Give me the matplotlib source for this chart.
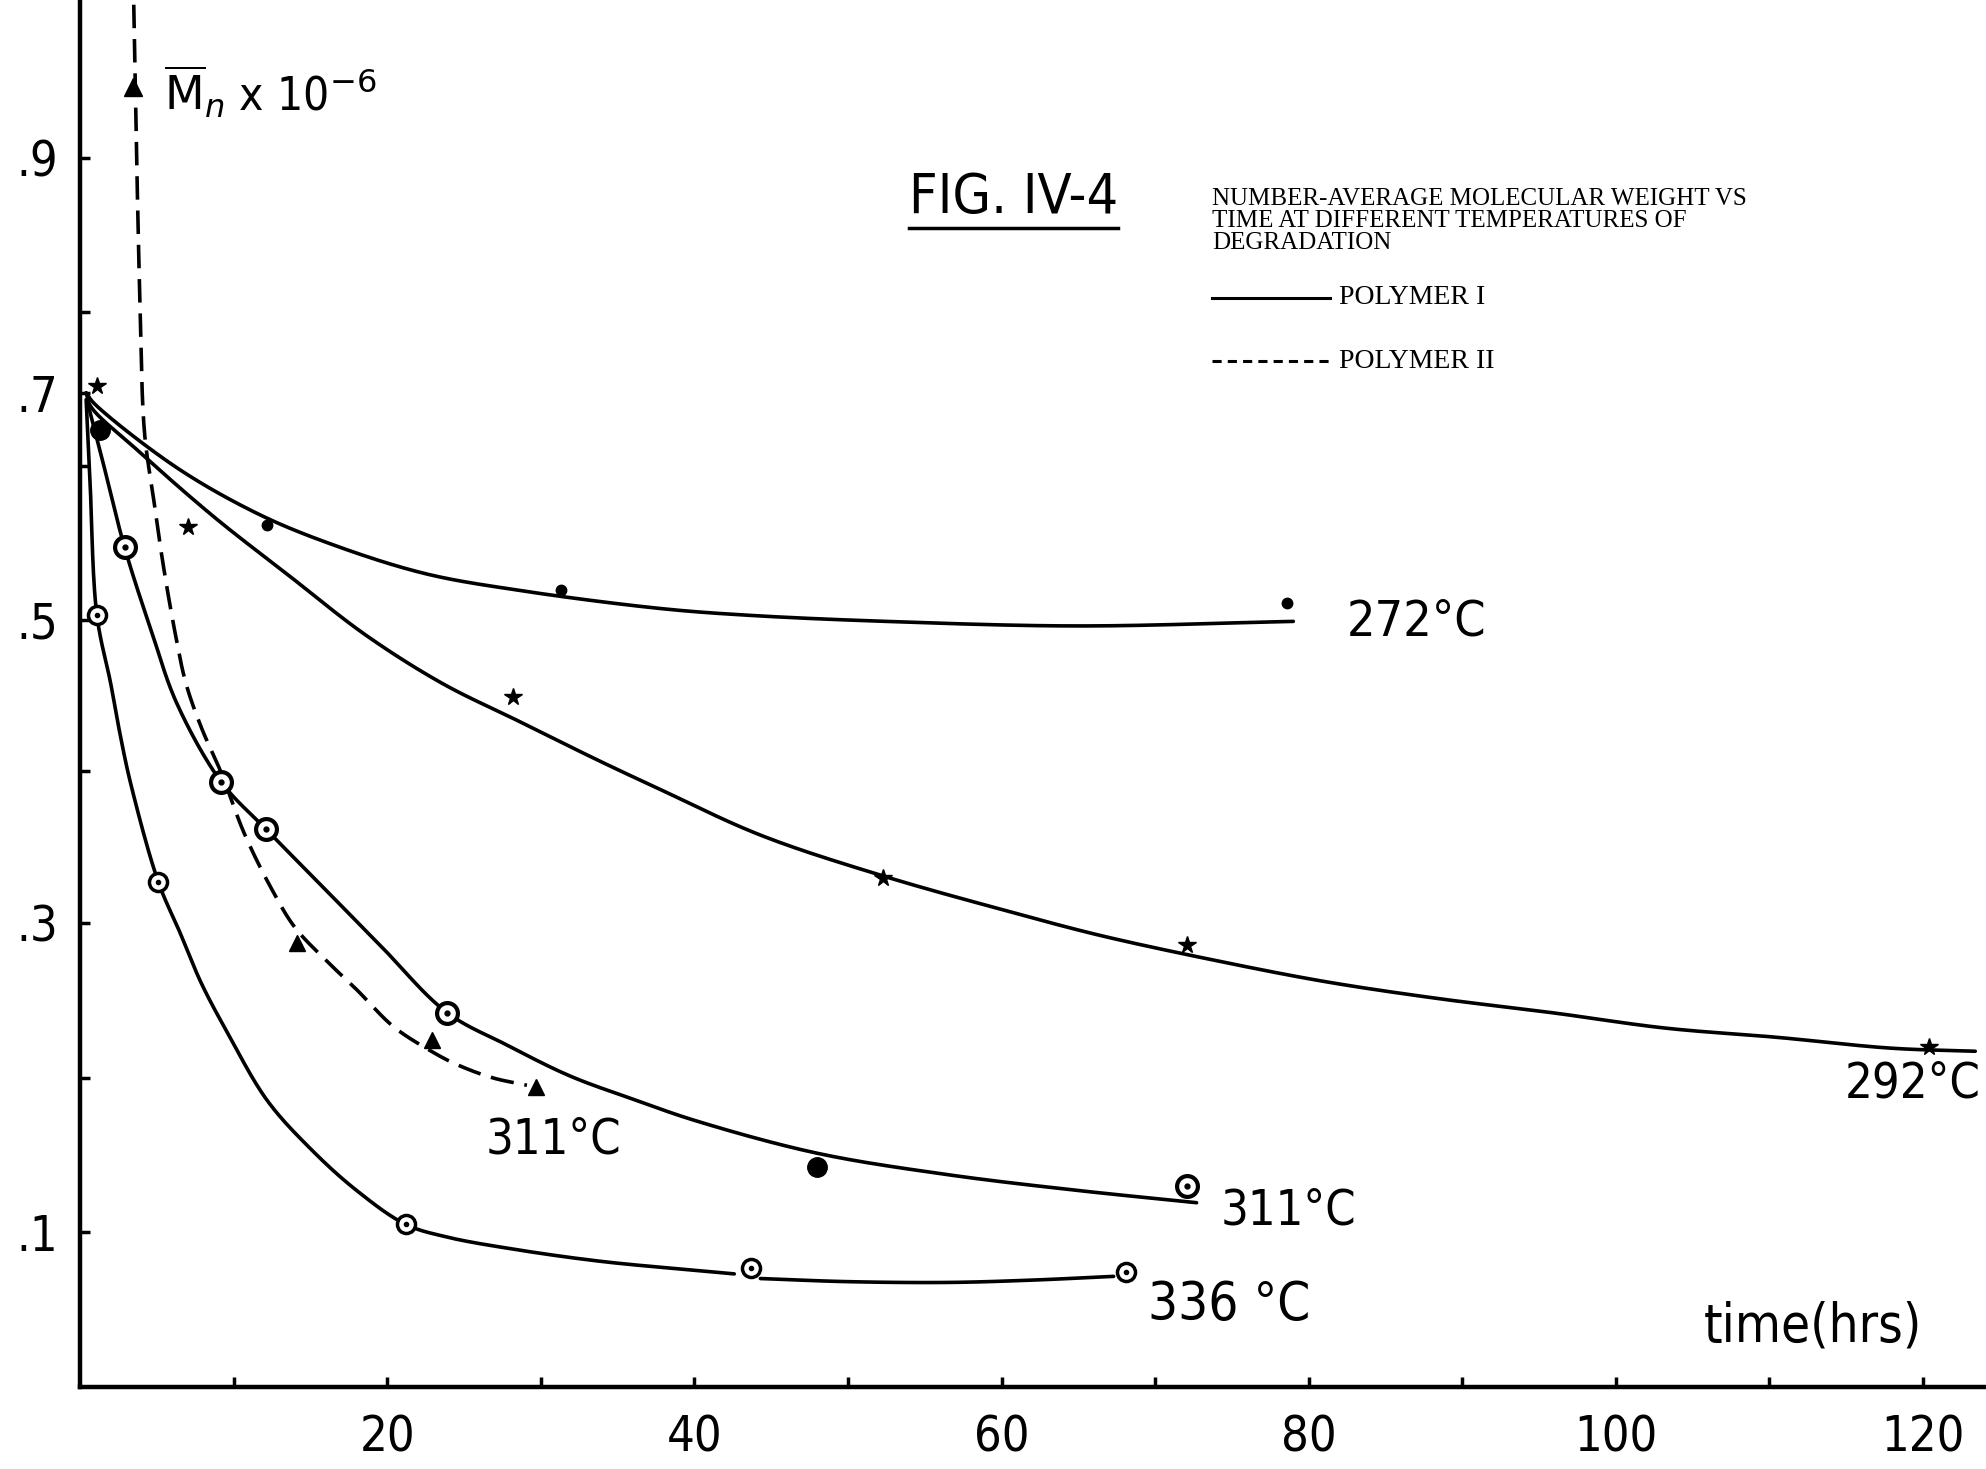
import numpy as np
import matplotlib
matplotlib.use("Agg")
import matplotlib.pyplot as plt

plt.rcParams["mathtext.fontset"] = "dejavusans"

# ---------------- data (time in hrs, Mn x 10^-6) ----------------
# Polymer I, 272 C
t272_line = [0.4, 0.9, 6.2, 11.5, 16.1, 22.4, 28.6, 37.8, 43.6, 52.5, 64.9, 79.0]
m272_line = [0.700, 0.691, 0.635, 0.594, 0.568, 0.541, 0.526, 0.510, 0.504, 0.499, 0.496, 0.499]
t272_pts = [12.2, 31.3, 78.6]
m272_pts = [0.584, 0.526, 0.515]

# Polymer I, 292 C
t292_line = [0.4, 0.7, 3.7, 8.7, 13.7, 18.6, 23.6, 28.6, 33.6, 37.8, 44.3, 52.3, 60.7,
             66.4, 73.8, 81.1, 88.5, 95.8, 103.2, 110.5, 117.9, 123.4]
m292_line = [0.700, 0.688, 0.650, 0.591, 0.538, 0.490, 0.458, 0.433, 0.408, 0.388, 0.358,
             0.331, 0.307, 0.292, 0.276, 0.262, 0.251, 0.242, 0.232, 0.226, 0.219, 0.217]
t292_pts = [1.1, 7.0, 28.2, 52.3, 72.1, 120.4]
m292_pts = [0.706, 0.582, 0.449, 0.330, 0.286, 0.220]

# Polymer I, 311 C
t311_line = [0.5, 1.4, 2.9, 4.7, 6.3, 9.2, 12.1, 15.4, 19.5, 23.9, 27.8, 31.9, 36.0,
             40.1, 48.0, 56.6, 64.9, 72.7]
m311_line = [0.691, 0.644, 0.564, 0.491, 0.445, 0.393, 0.362, 0.328, 0.286, 0.242, 0.221,
             0.201, 0.186, 0.172, 0.151, 0.137, 0.127, 0.119]
t311_pts = [2.9, 9.2, 12.1, 23.9, 72.1]
m311_pts = [0.564, 0.393, 0.362, 0.242, 0.130]
t311_filled = [1.3, 48.0]
m311_filled = [0.667, 0.142]

# Polymer I, 336 C (drawn in two strokes, broken at the 44 h point)
t336_line_a = [0.4, 0.65, 1.1, 2.0, 2.6, 3.3, 5.1, 6.5, 7.9, 9.6, 12.2, 15.1, 18.0, 21.2,
               23.8, 28.2, 34.0, 40.4, 42.6]
m336_line_a = [0.694, 0.623, 0.504, 0.458, 0.425, 0.392, 0.327, 0.294, 0.261, 0.229, 0.185,
               0.153, 0.127, 0.105, 0.097, 0.089, 0.081, 0.075, 0.073]
t336_line_b = [44.3, 50.0, 56.6, 62.0, 67.3]
m336_line_b = [0.070, 0.068, 0.0675, 0.069, 0.0714]
t336_pts = [1.1, 5.1, 21.2, 43.7, 68.1]
m336_pts = [0.504, 0.327, 0.105, 0.077, 0.074]

# Polymer II, 311 C
tII_line = [3.5, 3.6, 3.7, 3.9, 4.2, 4.8, 5.4, 6.2, 6.9, 7.9, 9.2, 10.7, 12.5, 14.0, 16.0,
            18.0, 20.4, 22.7, 24.4, 26.8, 29.1]
mII_line = [1.03, 0.96, 0.892, 0.779, 0.665, 0.606, 0.550, 0.491, 0.458, 0.429, 0.399,
            0.359, 0.322, 0.297, 0.276, 0.257, 0.233, 0.218, 0.209, 0.200, 0.195]
tII_pts = [14.1, 22.9, 29.7]
mII_pts = [0.287, 0.224, 0.194]
tII_arrow = [3.45]
mII_arrow = [0.96]

x_ticks = [20, 40, 60, 80, 100, 120]
x_tick_labels = ["20", "40", "60", "80", "100", "120"]
x_minor = [10, 30, 50, 70, 90, 110]
y_ticks = [0.1, 0.3, 0.5, 0.7, 0.9]
y_tick_labels = [".1", ".3", ".5", ".7", ".9"]
y_minor = [0.2, 0.4, 0.636, 0.769]

# hand-drawn (non-uniform) value axis: label values and their relative heights
Y_CAL_VAL = [0.0, 0.1, 0.3, 0.5, 0.7, 0.9, 1.034]
Y_CAL_POS = [0.0, 0.1006, 0.3013, 0.4981, 0.6455, 0.7981, 0.9006]


def fwd(v):
    return np.interp(v, Y_CAL_VAL, Y_CAL_POS)


def inv(p):
    return np.interp(p, Y_CAL_POS, Y_CAL_VAL)


XS, YS = 15.36, 1540.0  # aspect used only for drawing smooth pen strokes


def stroke(xs, ys, n=24):
    """Centripetal Catmull-Rom pen stroke through the traced points."""
    P = np.column_stack([np.asarray(xs, float) * XS, fwd(np.asarray(ys, float)) * YS])
    if len(P) < 3:
        return P[:, 0] / XS, inv(P[:, 1] / YS)
    P = np.vstack([2 * P[0] - P[1], P, 2 * P[-1] - P[-2]])
    out = []
    for i in range(1, len(P) - 2):
        p0, p1, p2, p3 = P[i - 1], P[i], P[i + 1], P[i + 2]
        t0 = 0.0
        t1 = t0 + np.linalg.norm(p1 - p0) ** 0.5
        t2 = t1 + np.linalg.norm(p2 - p1) ** 0.5
        t3 = t2 + np.linalg.norm(p3 - p2) ** 0.5
        t = np.linspace(t1, t2, n, endpoint=False)[:, None]
        A1 = (t1 - t) / (t1 - t0) * p0 + (t - t0) / (t1 - t0) * p1
        A2 = (t2 - t) / (t2 - t1) * p1 + (t - t1) / (t2 - t1) * p2
        A3 = (t3 - t) / (t3 - t2) * p2 + (t - t2) / (t3 - t2) * p3
        B1 = (t2 - t) / (t2 - t0) * A1 + (t - t0) / (t2 - t0) * A2
        B2 = (t3 - t) / (t3 - t1) * A2 + (t - t1) / (t3 - t1) * A3
        out.append((t2 - t) / (t2 - t1) * B1 + (t - t1) / (t2 - t1) * B2)
    out.append(P[-2][None, :])
    out = np.vstack(out)
    return out[:, 0] / XS, inv(out[:, 1] / YS)


LETTER = dict(family=["DejaVu Sans"], stretch="condensed")
TYPE = dict(family=["Liberation Serif", "DejaVu Serif"])

fig = plt.figure(figsize=(19.86, 14.69), dpi=100)
ax = fig.add_axes([80 / 1986, 82 / 1469, 1906 / 1986, 1387 / 1469])
ax.set_yscale("function", functions=(fwd, inv))
ax.set_xlim(0, 124.1)
ax.set_ylim(0, 1.034)
for s in ["top", "right"]:
    ax.spines[s].set_visible(False)
for s in ["left", "bottom"]:
    ax.spines[s].set_linewidth(3.2)

ax.set_xticks(x_ticks)
ax.set_xticklabels(x_tick_labels)
ax.set_xticks(x_minor, minor=True)
ax.set_yticks(y_ticks)
ax.set_yticklabels(y_tick_labels)
ax.set_yticks(y_minor, minor=True)
ax.yaxis.set_minor_formatter(matplotlib.ticker.NullFormatter())
ax.tick_params(axis="x", which="both", direction="in", length=7, width=2.5, pad=19)
ax.tick_params(axis="y", which="both", direction="in", length=7, width=2.5, pad=16)
for lab in ax.get_xticklabels() + ax.get_yticklabels():
    lab.set_fontsize(35)
    lab.set_fontfamily(LETTER["family"])
    lab.set_fontstretch("condensed")

lw = 2.6
for xs, ys in [(t272_line, m272_line), (t292_line, m292_line), (t311_line, m311_line),
               (t336_line_a, m336_line_a), (t336_line_b, m336_line_b)]:
    sx, sy = stroke(xs, ys)
    ax.plot(sx, sy, color="black", lw=lw, solid_capstyle="round")
sx, sy = stroke(tII_line, mII_line)
ax.plot(sx, sy, color="black", lw=2.6, ls=(0, (6.5, 3)))

ax.plot(t272_pts, m272_pts, "o", color="black", ms=7.5)
ax.plot(t292_pts, m292_pts, "*", color="black", ms=13)
ax.plot(t311_pts, m311_pts, "o", mfc="white", mec="black", mew=3, ms=15)
ax.plot(t311_pts, m311_pts, "o", color="black", ms=3.5)
ax.plot(t311_filled, m311_filled, "o", color="black", ms=14)
ax.plot(t336_pts, m336_pts, "o", mfc="white", mec="black", mew=2.5, ms=13)
ax.plot(t336_pts, m336_pts, "o", color="black", ms=3)
ax.plot(tII_pts, mII_pts, "^", color="black", ms=12)
ax.plot(tII_arrow, mII_arrow, "^", color="black", ms=13)

# curve labels
for txt, x, y, fs in [("272°C", 87.0, 0.499, 36), ("292°C", 119.3, 0.196, 35),
                      ("311°C", 30.8, 0.160, 35), ("311°C", 78.7, 0.114, 35),
                      ("336 °C", 74.8, 0.053, 38), ("time(hrs)", 112.8, 0.039, 38)]:
    ax.text(x, y, txt, fontsize=fs, ha="center", va="center", **LETTER)

ax.text(5.5, 0.94, r"$\overline{\mathrm{M}}_{n}$ x 10$^{-6}$", fontsize=33, ha="left",
        va="baseline", **LETTER)

ax.text(54.0, 0.853, "FIG. IV-4", fontsize=40, ha="left", va="baseline", **LETTER)
ax.plot([54.0, 67.6], [0.840, 0.840], color="black", lw=2.5)

ax.text(73.7, 0.874,
        "NUMBER-AVERAGE MOLECULAR WEIGHT VS\nTIME AT DIFFERENT TEMPERATURES OF\nDEGRADATION",
        fontsize=18, ha="left", va="top", linespacing=1.0, **TYPE)
ax.plot([73.7, 81.4], [0.781, 0.781], color="black", lw=2.2)
ax.text(82.0, 0.781, "POLYMER I", fontsize=20, ha="left", va="center", **TYPE)
ax.plot([73.7, 81.4], [0.727, 0.727], color="black", lw=2.2, ls=(0, (3, 2)))
ax.text(82.0, 0.727, "POLYMER II", fontsize=20, ha="left", va="center", **TYPE)

fig.savefig("out.png", dpi=100)
